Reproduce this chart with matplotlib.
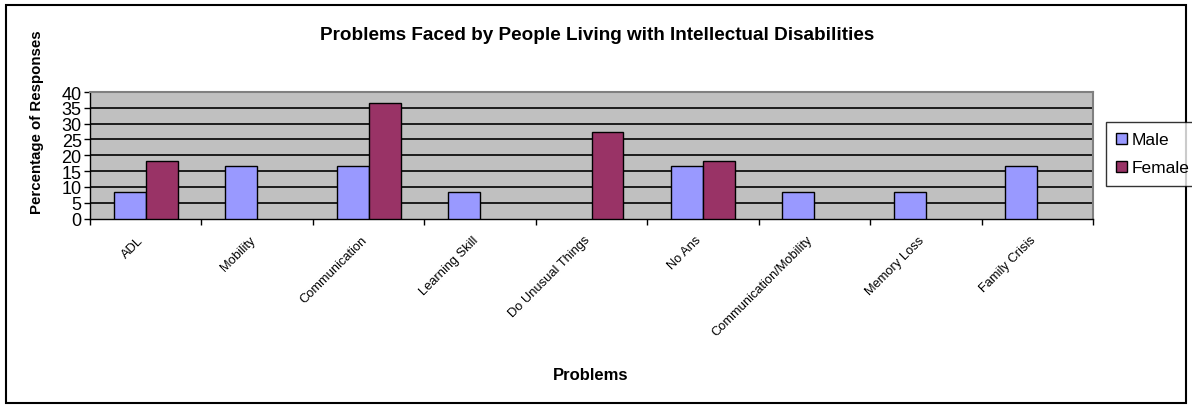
import matplotlib
matplotlib.use("Agg")
import matplotlib.pyplot as plt
import numpy as np
from matplotlib.patches import Rectangle

categories = ["ADL", "Mobility", "Communication", "Learning Skill", "Do Unusual Things",
              "No Ans", "Communication/Mobility", "Memory Loss", "Family Crisis"]
male = [8.3, 16.7, 16.7, 8.3, 0, 16.7, 8.3, 8.3, 16.7]
female = [18.2, 0, 36.4, 0, 27.3, 18.2, 0, 0, 0]
yticks = [0, 5, 10, 15, 20, 25, 30, 35, 40]

plt.rcParams['font.family'] = ['Liberation Sans', 'DejaVu Sans']

W, H = 1192, 410
fig = plt.figure(figsize=(W / 100, H / 100), dpi=100)
ax = fig.add_axes([90 / W, 1 - 219.5 / H, (1093 - 90) / W, (219.5 - 93) / H])
ax.set_facecolor('#C0C0C0')

x = np.arange(len(categories))
w = 0.287
mb = ax.bar(x - w / 2, male, w, color='#9999FF', edgecolor='black', linewidth=1, label='Male', zorder=3)
fb = ax.bar(x + w / 2, female, w, color='#993366', edgecolor='black', linewidth=1, label='Female', zorder=3)
for bars, vals in ((mb, male), (fb, female)):
    for b, v in zip(bars, vals):
        if v == 0:
            b.set_visible(False)

ax.set_xlim(-0.5, len(categories) - 0.5)
ax.set_ylim(0, 40)
ax.set_yticks(yticks)
ax.set_yticklabels([str(v) for v in yticks], fontsize=13)
for v in yticks[1:-1]:
    ax.axhline(v, color='black', linewidth=1.2, zorder=1)

ax.set_xticks(np.arange(-0.5, len(categories), 1.0))
ax.set_xticklabels([])
ax.tick_params(axis='x', direction='out', length=4, width=1)
ax.tick_params(axis='y', direction='out', length=4, width=1, pad=2)
for c, lab in enumerate(categories):
    ax.annotate(lab, xy=(c, 0), xycoords='data', xytext=(-8, -15), textcoords='offset pixels',
                rotation=45, rotation_mode='anchor', ha='right', va='top', fontsize=9.3)

for s in ['top', 'right']:
    ax.spines[s].set_color('#808080')
    ax.spines[s].set_linewidth(1.5)
for s in ['left', 'bottom']:
    ax.spines[s].set_color('black')
    ax.spines[s].set_linewidth(1)

fig.text(597 / W, 1 - 36 / H, "Problems Faced by People Living with Intellectual Disabilities",
         ha='center', va='center', fontsize=13.6, fontweight='bold')
fig.text(37 / W, 1 - 122 / H, "Percentage of Responses", rotation=90,
         ha='center', va='center', fontsize=10.8, fontweight='bold')
fig.text(591 / W, 1 - 376 / H, "Problems", ha='center', va='center', fontsize=12, fontweight='bold')

leg = fig.legend(loc='upper left', bbox_to_anchor=(1106 / W, 1 - 123 / H), fontsize=12.5,
                 frameon=True, fancybox=False, edgecolor='black', handlelength=0.6,
                 handleheight=0.6, handletextpad=0.3, borderpad=0.6, labelspacing=0.75,
                 borderaxespad=0)
leg.get_frame().set_linewidth(1)

fig.patches.append(Rectangle((6 / W, 6 / H), (1186 - 6) / W, (404 - 6) / H,
                             transform=fig.transFigure, fill=False, edgecolor='black',
                             linewidth=1.5))

fig.savefig('out.png', dpi=100)
